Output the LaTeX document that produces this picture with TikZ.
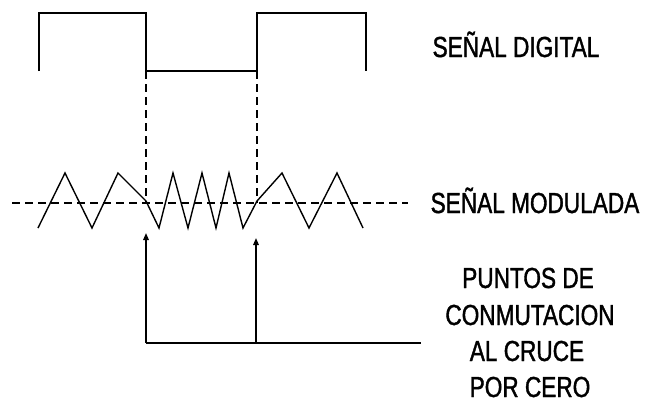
\documentclass[tikz,border=0pt]{standalone}
\usepackage{fontspec}
\newfontfamily\lblfont[FakeStretch=0.78,FakeBold=1.3]{Liberation Sans}
\usetikzlibrary{arrows.meta}
\tikzset{
  sig/.style={line width=1.9pt, line join=miter},
  wave/.style={line width=1.4pt, line join=miter},
  guide/.style={line width=1.4pt, dash pattern=on 8pt off 5pt},
  pointer/.style={line width=1.5pt, -{Triangle[length=7pt,width=5.5pt]}},
  lbl/.style={font=\lblfont\fontsize{29}{36}\selectfont, anchor=base, inner sep=0pt}
}
\begin{document}
\begin{tikzpicture}[x=1pt,y=-1pt]
\useasboundingbox (0,0) rectangle (646,405);
% named points
\coordinate (s0) at (39,71);
\coordinate (s1) at (39,13);
\coordinate (s2) at (146,13);
\coordinate (f1) at (146,71);
\coordinate (f2) at (257,71);
\coordinate (s5) at (257,13);
\coordinate (s6) at (366,13);
\coordinate (s7) at (366,71);
\coordinate (z1) at (146,203);
\coordinate (z2) at (257,203);
\coordinate (zl) at (12,203);
\coordinate (zr) at (408,203);
\coordinate (a1) at (146,343);
\coordinate (a2) at (256,343);
\coordinate (t1) at (146,233);
\coordinate (t2) at (256,238);
\coordinate (br) at (421,343);
% digital signal
\draw[sig] (s0) -- (s1) -- (s2) -- (f1) -- (f2) -- (s5) -- (s6) -- (s7);
% guide lines
\draw[guide] (f1) -- (z1);
\draw[guide] (f2) -- (z2);
\draw[guide] (zl) -- (zr);
% modulated signal
\draw[wave] (38,228) -- (65,173) -- (92,228) -- (118,173) -- (146,201)
  -- (159,228) -- (173,173) -- (188,228) -- (202,173) -- (216,228)
  -- (229,173) -- (243,228) -- (257,201) -- (282,173) -- (309,228)
  -- (337,173) -- (363,228);
% switching points
\draw[line width=1.5pt] (a1) -- (br);
\draw[pointer] (a1) -- (t1);
\draw[pointer] (a2) -- (t2);
% labels
\node[lbl] (dig) at (516,57) {SEÑAL DIGITAL};
\node[lbl] (mod) at (535,213) {SEÑAL MODULADA};
\node[lbl] (p1) at (528,288) {PUNTOS DE};
\node[lbl] (p2) at (530,325) {CONMUTACION};
\node[lbl] (p3) at (527,361) {AL CRUCE};
\node[lbl] (p4) at (530,397) {POR CERO};
\end{tikzpicture}
\end{document}
